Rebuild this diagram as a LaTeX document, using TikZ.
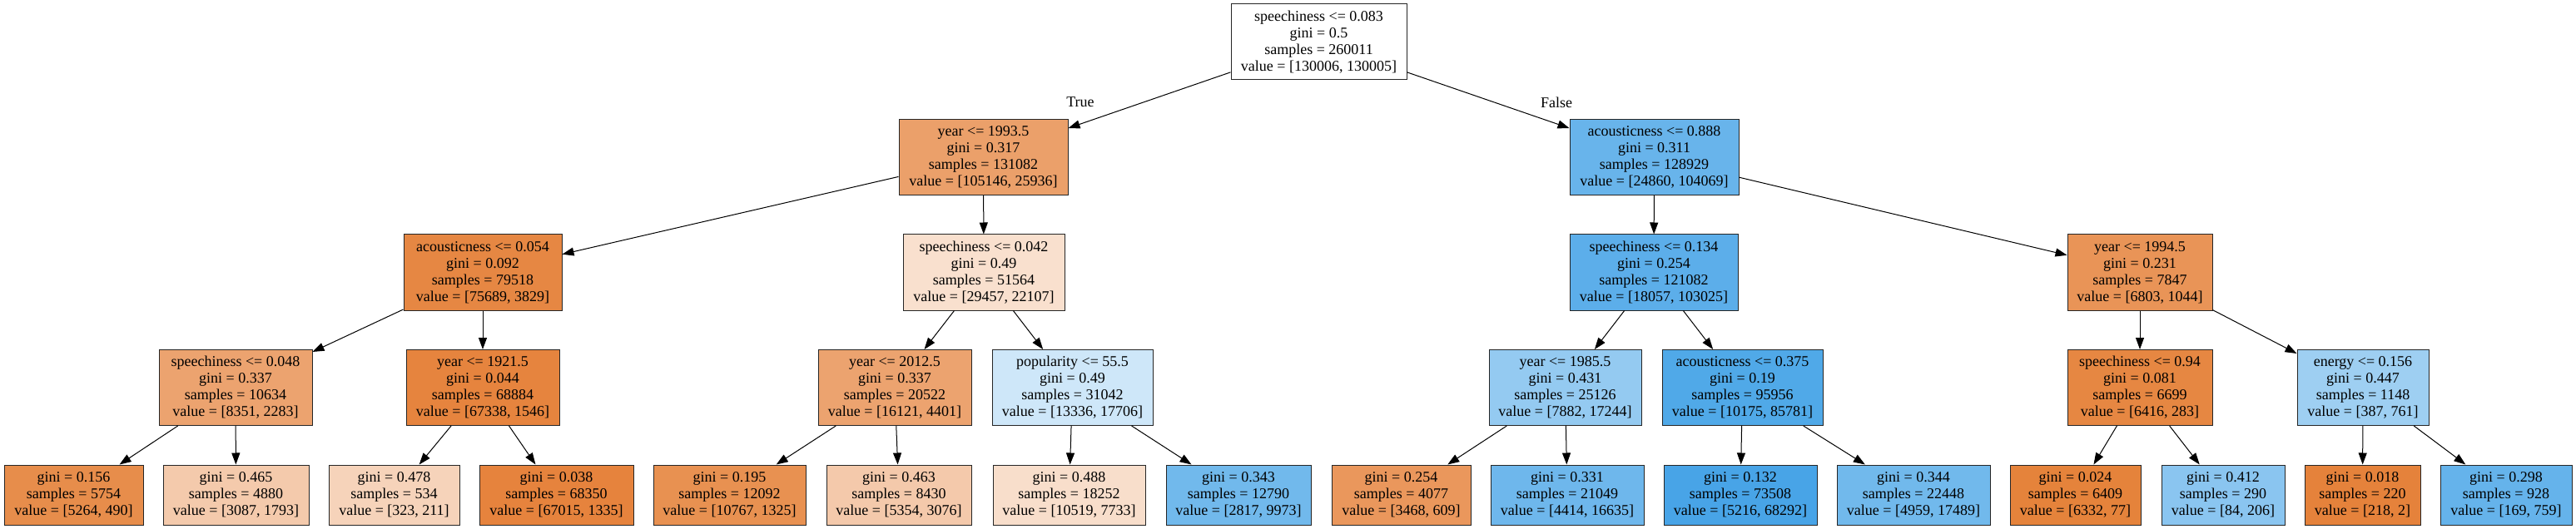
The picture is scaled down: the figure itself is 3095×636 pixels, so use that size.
\documentclass[tikz,border=0pt]{standalone}
\usepackage{fontspec}
\setmainfont{Liberation Serif}
\usetikzlibrary{arrows.meta}
\definecolor{orng}{RGB}{229,129,57}
\definecolor{blu}{RGB}{57,157,229}
\begin{document}
\begin{tikzpicture}[x=1pt,y=-1pt,
  every node/.style={font=\fontsize{18}{20}\selectfont},
  tbox/.style={draw=black!85, line width=1pt, rectangle, align=center, inner xsep=2pt, inner ysep=0pt, minimum height=91pt},
  lbox/.style={tbox, minimum height=72pt},
  conn/.style={draw=black, line width=1pt, -{Triangle[length=14pt,width=10pt]}},
  lbl/.style={inner sep=0pt}
]
\fill[white] (0,0) rectangle (3095,636);
\useasboundingbox (0,0) rectangle (3095,636);

% root
\node[tbox, fill=white, minimum width=211pt] (root) at (1584.5,50.5) {speechiness <= 0.083\\gini = 0.5\\samples = 260011\\value = [130006, 130005]};
% level 1
\node[tbox, fill=orng!75.33, minimum width=203pt] (A1) at (1181.5,189) {year <= 1993.5\\gini = 0.317\\samples = 131082\\value = [105146, 25936]};
\node[tbox, fill=blu!76.11, minimum width=203pt] (A2) at (1987.5,189) {acousticness <= 0.888\\gini = 0.311\\samples = 128929\\value = [24860, 104069]};
% level 2
\node[tbox, fill=orng!94.94, minimum width=190pt] (B1) at (580,327.5) {acousticness <= 0.054\\gini = 0.092\\samples = 79518\\value = [75689, 3829]};
\node[tbox, fill=orng!24.95, minimum width=194pt] (B2) at (1182,327.5) {speechiness <= 0.042\\gini = 0.49\\samples = 51564\\value = [29457, 22107]};
\node[tbox, fill=blu!82.47, minimum width=202pt] (B3) at (1987,327.5) {speechiness <= 0.134\\gini = 0.254\\samples = 121082\\value = [18057, 103025]};
\node[tbox, fill=orng!84.65, minimum width=174pt] (B4) at (2571,327.5) {year <= 1994.5\\gini = 0.231\\samples = 7847\\value = [6803, 1044]};
% level 3
\node[tbox, fill=orng!72.66, minimum width=184pt] (C1) at (283,466) {speechiness <= 0.048\\gini = 0.337\\samples = 10634\\value = [8351, 2283]};
\node[tbox, fill=orng!97.70, minimum width=184pt] (C2) at (580,466) {year <= 1921.5\\gini = 0.044\\samples = 68884\\value = [67338, 1546]};
\node[tbox, fill=orng!72.70, minimum width=184pt] (C3) at (1075,466) {year <= 2012.5\\gini = 0.337\\samples = 20522\\value = [16121, 4401]};
\node[tbox, fill=blu!24.68, minimum width=193pt] (C4) at (1288.5,466) {popularity <= 55.5\\gini = 0.49\\samples = 31042\\value = [13336, 17706]};
\node[tbox, fill=blu!54.29, minimum width=183pt] (C5) at (1880.5,466) {year <= 1985.5\\gini = 0.431\\samples = 25126\\value = [7882, 17244]};
\node[tbox, fill=blu!88.14, minimum width=193pt] (C6) at (2093.5,466) {acousticness <= 0.375\\gini = 0.19\\samples = 95956\\value = [10175, 85781]};
\node[tbox, fill=orng!95.59, minimum width=174pt] (C7) at (2571,466) {speechiness <= 0.94\\gini = 0.081\\samples = 6699\\value = [6416, 283]};
\node[tbox, fill=blu!49.15, minimum width=158pt] (C8) at (2839,466) {energy <= 0.156\\gini = 0.447\\samples = 1148\\value = [387, 761]};
% leaves
\node[lbox, fill=orng!90.69, minimum width=167pt] (L1) at (88.5,595) {gini = 0.156\\samples = 5754\\value = [5264, 490]};
\node[lbox, fill=orng!41.92, minimum width=175pt] (L2) at (283.5,595) {gini = 0.465\\samples = 4880\\value = [3087, 1793]};
\node[lbox, fill=orng!34.68, minimum width=157pt] (L3) at (473.5,595) {gini = 0.478\\samples = 534\\value = [323, 211]};
\node[lbox, fill=orng!98.01, minimum width=185pt] (L4) at (668.5,595) {gini = 0.038\\samples = 68350\\value = [67015, 1335]};
\node[lbox, fill=orng!87.69, minimum width=183pt] (L5) at (876.5,595) {gini = 0.195\\samples = 12092\\value = [10767, 1325]};
\node[lbox, fill=orng!42.55, minimum width=174pt] (L6) at (1080,595) {gini = 0.463\\samples = 8430\\value = [5354, 3076]};
\node[lbox, fill=orng!26.49, minimum width=183pt] (L7) at (1284.5,595) {gini = 0.488\\samples = 18252\\value = [10519, 7733]};
\node[lbox, fill=blu!71.75, minimum width=174pt] (L8) at (1488,595) {gini = 0.343\\samples = 12790\\value = [2817, 9973]};
\node[lbox, fill=orng!82.44, minimum width=167pt] (L9) at (1683.5,595) {gini = 0.254\\samples = 4077\\value = [3468, 609]};
\node[lbox, fill=blu!73.47, minimum width=184pt] (L10) at (1883,595) {gini = 0.331\\samples = 21049\\value = [4414, 16635]};
\node[lbox, fill=blu!92.36, minimum width=184pt] (L11) at (2091,595) {gini = 0.132\\samples = 73508\\value = [5216, 68292]};
\node[lbox, fill=blu!71.65, minimum width=184pt] (L12) at (2299,595) {gini = 0.344\\samples = 22448\\value = [4959, 17489]};
\node[lbox, fill=orng!98.78, minimum width=157pt] (L13) at (2493.5,595) {gini = 0.024\\samples = 6409\\value = [6332, 77]};
\node[lbox, fill=blu!59.22, minimum width=148pt] (L14) at (2671,595) {gini = 0.412\\samples = 290\\value = [84, 206]};
\node[lbox, fill=orng!99.08, minimum width=139pt] (L15) at (2838.5,595) {gini = 0.018\\samples = 220\\value = [218, 2]};
\node[lbox, fill=blu!77.73, minimum width=158pt] (L16) at (3011,595) {gini = 0.298\\samples = 928\\value = [169, 759]};

% edge labels
\node[lbl] (tlab) at (1298,123) {True};
\node[lbl] (flab) at (1870,123) {False};

% connectors
\draw[conn] (root) -- (A1);
\draw[conn] (root) -- (A2);
\draw[conn] (A1) -- (B1);
\draw[conn] (A1) -- (B2);
\draw[conn] (A2) -- (B3);
\draw[conn] (A2) -- (B4);
\draw[conn] (B1) -- (C1);
\draw[conn] (B1) -- (C2);
\draw[conn] (B2) -- (C3);
\draw[conn] (B2) -- (C4);
\draw[conn] (B3) -- (C5);
\draw[conn] (B3) -- (C6);
\draw[conn] (B4) -- (C7);
\draw[conn] (B4) -- (C8);
\draw[conn] (C1) -- (L1);
\draw[conn] (C1) -- (L2);
\draw[conn] (C2) -- (L3);
\draw[conn] (C2) -- (L4);
\draw[conn] (C3) -- (L5);
\draw[conn] (C3) -- (L6);
\draw[conn] (C4) -- (L7);
\draw[conn] (C4) -- (L8);
\draw[conn] (C5) -- (L9);
\draw[conn] (C5) -- (L10);
\draw[conn] (C6) -- (L11);
\draw[conn] (C6) -- (L12);
\draw[conn] (C7) -- (L13);
\draw[conn] (C7) -- (L14);
\draw[conn] (C8) -- (L15);
\draw[conn] (C8) -- (L16);
\end{tikzpicture}
\end{document}
